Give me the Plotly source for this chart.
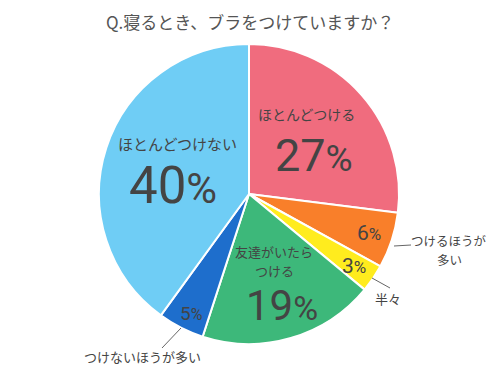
import plotly.graph_objects as go

title = "Q.寝るとき、ブラをつけていますか？"
labels = ["ほとんどつける", "つけるほうが多い", "半々", "友達がいたらつける", "つけないほうが多い", "ほとんどつけない"]
values = [27, 6, 3, 19, 5, 40]
colors = ["#F06C7E", "#F97F2A", "#FFEC1E", "#3DB87A", "#1E6ECC", "#6FCDF5"]

W, H = 500, 383
cx, cy, r = 249, 194, 150

def px(x):
    return x / W

def py(y):
    return 1 - y / H

fig = go.Figure(go.Pie(
    labels=labels, values=values, sort=False, direction="clockwise", rotation=0,
    marker=dict(colors=colors, line=dict(color="white", width=2)),
    textinfo="none", hoverinfo="label+percent", showlegend=False,
    domain=dict(x=[px(cx - r), px(cx + r)], y=[py(cy + r), py(cy - r)]),
))

JP = "Noto Sans CJK JP"
NUM = "Roboto"
TXT = "#444444"

def pct(v, size):
    return f"{v}<span style='font-size:{round(size * 0.82)}px'>%</span>"

ann = []
def add(x, y, text, size, family=JP, color=TXT):
    ann.append(dict(x=px(x), y=py(y), xref="paper", yref="paper", text=text, showarrow=False,
                    font=dict(family=family, size=size, color=color),
                    xanchor="center", yanchor="middle", borderpad=0))

# title
add(250, 22, title, 17, color="#555555")
# big labels
add(306, 114, labels[0], 14)
add(314, 155, pct(values[0], 45), 45, NUM)
add(177, 143, labels[5], 15)
add(173, 185, pct(values[5], 51), 51, NUM)
add(274, 252, "友達がいたら", 13)
add(274, 270.5, "つける", 13)
add(282, 305, pct(values[3], 42), 42, NUM)
# small percent labels
add(369, 233, pct(values[1], 21), 21, NUM)
add(354, 266, pct(values[2], 21), 21, NUM)
add(191, 313, pct(values[4], 19), 19, NUM)
# outside labels
add(449, 240.5, "つけるほうが", 12.5)
add(449, 259, "多い", 12.5)
add(388, 298, labels[2], 13)
add(142, 356, labels[4], 13)

shapes = [
    dict(type="line", xref="paper", yref="paper", x0=px(394), y0=py(246), x1=px(411), y1=py(245),
         line=dict(color="#666666", width=1)),
    dict(type="line", xref="paper", yref="paper", x0=px(372), y0=py(278), x1=px(390), y1=py(288),
         line=dict(color="#666666", width=1)),
    dict(type="line", xref="paper", yref="paper", x0=px(181), y0=py(328), x1=px(162), y1=py(348),
         line=dict(color="#666666", width=1)),
]

fig.update_layout(width=W, height=H, margin=dict(l=0, r=0, t=0, b=0),
                  paper_bgcolor="white", plot_bgcolor="white",
                  annotations=ann, shapes=shapes)
fig.write_html("out.html")
